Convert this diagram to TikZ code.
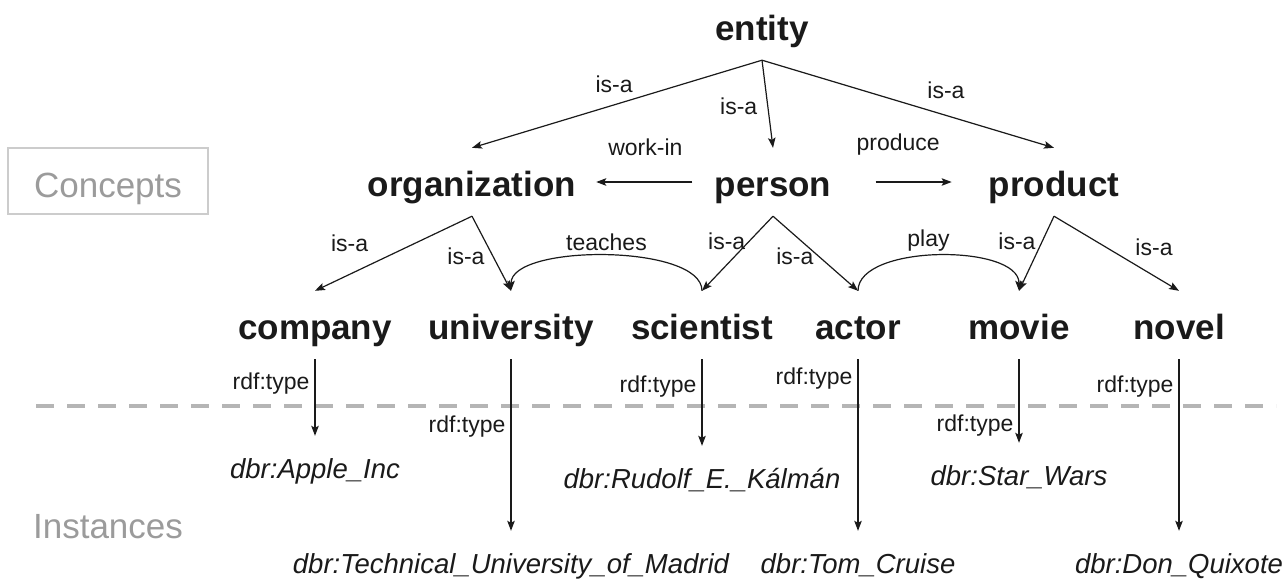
\documentclass[tikz,border=0pt]{standalone}
\usepackage{fontspec}
\setmainfont{Liberation Sans}
\usepackage{tikz}
\usetikzlibrary{arrows.meta}
\definecolor{Ink}{HTML}{1A1A1A}
\definecolor{Muted}{HTML}{9B9B9B}
\definecolor{Frame}{HTML}{CCCCCC}
\definecolor{Sep}{HTML}{B5B5B5}

\begin{document}
\begin{tikzpicture}[
  x=1pt,
  y=-1pt,
  every node/.style={
    inner sep=0pt,
    text=Ink
  },
  concept/.style={
    font=\fontsize{35}{42}\selectfont\bfseries,
    anchor=base,
    text height=48pt,
    text depth=20pt
  },
  inst/.style={
    font=\fontsize{27.5}{33}\selectfont\itshape,
    anchor=base,
    text height=42pt,
    text depth=7pt
  },
  lbl/.style={
    font=\fontsize{23}{27}\selectfont
  },
  tag/.style={
    font=\fontsize{35}{42}\selectfont,
    text=Muted
  },
  link/.style={
    -{Stealth[length=10pt,width=7.5pt,inset=2pt]},
    Ink,
    line width=1.2pt
  }
]

\useasboundingbox (0,0) rectangle (1284,579);

\draw[
  Sep,
  line width=4pt,
  dash pattern=on 18pt off 13pt
] (36,406) -- (1276,406);

\node[
  tag,
  draw=Frame,
  line width=1.2pt,
  minimum width=200pt,
  minimum height=66pt,
  text height=40pt,
  text depth=7pt
] (ctag) at (108,181)
{Concepts};

\node[tag] (itag) at (108,527)
{Instances};

\node[concept] (entity) at (762,40) {entity};

\node[concept] (org) at (472,196) {organization};
\node[concept] (person) at (773,196) {person};
\node[concept] (product) at (1054,196) {product};

\node[concept] (company) at (315,339) {company};
\node[concept] (univ) at (511,339) {university};
\node[concept] (sci) at (702,339) {scientist};
\node[concept] (actor) at (858,339) {actor};
\node[concept] (movie) at (1019,339) {movie};
\node[concept] (novel) at (1179,339) {novel};

\node[inst] (apple) at (315,478) {dbr:Apple\_Inc};
\node[inst] (rudolf) at (702,488) {dbr:Rudolf\_E.\_Kálmán};
\node[inst] (wars) at (1019,485) {dbr:Star\_Wars};
\node[inst] (madrid) at (511,573) {dbr:Technical\_University\_of\_Madrid};
\node[inst] (cruise) at (858,573) {dbr:Tom\_Cruise};
\node[inst] (quixote) at (1179,573) {dbr:Don\_Quixote};

\draw[link] (entity.south) --
  node[lbl, pos=.51, above=12pt] {is-a} (org.north);
\draw[link] (entity.south) --
  node[lbl, pos=.53, left=10pt] {is-a} (person.north);
\draw[link] (entity.south) --
  node[lbl, pos=.63, above=16pt] {is-a} (product.north);

\draw[
  link,
  shorten <=22pt,
  shorten >=20pt
] (person.west) --
  node[lbl, midway, above=26pt] {work-in} (org.east);

\draw[
  link,
  shorten <=44pt,
  shorten >=37pt
] (person.east) --
  node[lbl, midway, above=26pt, xshift=-12pt] {produce} (product.west);

\draw[link] (org.south) --
  node[lbl, pos=.78, above=22pt] {is-a} (company.north);
\draw[link] (org.south) --
  node[lbl, pos=.54, left=8pt] {is-a} (univ.north);
\draw[link] (person.south) --
  node[lbl, pos=.34, left=3pt] {is-a} (sci.north);
\draw[link] (person.south) --
  node[lbl, pos=.54, left=5pt] {is-a} (actor.north);
\draw[link] (product.south) --
  node[lbl, pos=.34, left=6pt] {is-a} (movie.north);
\draw[link] (product.south) --
  node[lbl, pos=.8, above=20pt] {is-a} (novel.north);

\draw[link] (sci.north) .. controls +(0,-47) and +(0,-47) ..
  node[lbl, midway, above=4pt] {teaches} (univ.north);
\draw[link] (actor.north) .. controls +(0,-47) and +(0,-47) ..
  node[lbl, midway, above=4pt, xshift=-10pt] {play} (movie.north);

\foreach \c/\i/\p in {company/apple/.32, univ/madrid/.39, sci/rudolf/.31,
                      actor/cruise/.11, movie/wars/.79, novel/quixote/.16}{
  \draw[link] (\c.south) --
    node[lbl, pos=\p, left=5pt] {rdf:type} (\i.north);
}

\end{tikzpicture}
\end{document}
